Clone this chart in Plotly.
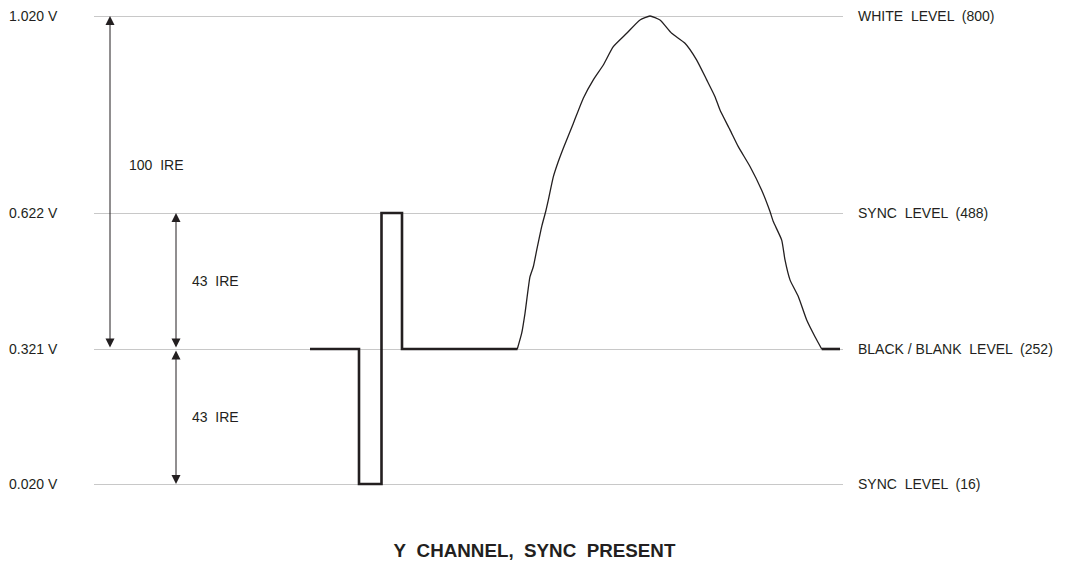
import numpy as np
import plotly.graph_objects as go

# Video levels (volts) and their labels
level_volts = [0.020, 0.321, 0.622, 1.020]
level_ticks = ["0.020 V", "0.321 V", "0.622 V", "1.020 V"]
level_names = ["SYNC  LEVEL  (16)", "BLACK / BLANK  LEVEL  (252)",
               "SYNC  LEVEL  (488)", "WHITE  LEVEL  (800)"]
# the diagram is not drawn to scale: height of each level on the drawing
level_height = [0, 135, 271, 468]

# Sync pulse part of the waveform (time, volts)
sync_t = [310, 359, 359, 381.5, 381.5, 402, 402, 517.5]
sync_v = [0.321, 0.321, 0.020, 0.020, 0.622, 0.622, 0.321, 0.321]

# Active video hump (time, volts)
video_t = [517.3, 521.7, 525, 530, 533.3, 536.7, 541.7, 545.7, 548.3, 553.3, 558.3,
           563.3, 573.3, 583.3, 593.3, 603.3, 613.3, 626.7, 640, 650, 660, 671.7,
           685, 696.7, 706.7, 715, 720, 730, 738.3, 750, 761.7, 770, 773.3, 781.7,
           785, 790, 798.3, 806.7, 815, 821.7]
video_v = [0.321, 0.356, 0.400, 0.481, 0.503, 0.540, 0.592, 0.625, 0.648, 0.695, 0.726,
           0.753, 0.803, 0.854, 0.891, 0.921, 0.958, 0.985, 1.012, 1.020, 1.012, 0.985,
           0.965, 0.931, 0.891, 0.857, 0.830, 0.790, 0.756, 0.716, 0.668, 0.625, 0.603,
           0.562, 0.518, 0.474, 0.437, 0.385, 0.348, 0.321]

# Trailing blank
tail_t = [821.7, 840]
tail_v = [0.321, 0.321]


def to_drawing(v):
    return np.interp(v, level_volts, level_height)


ink = "#231f20"
font = "Liberation Sans, Arial, sans-serif"

fig = go.Figure()
fig.add_trace(go.Scatter(x=sync_t, y=to_drawing(sync_v), mode="lines",
                         line=dict(color=ink, width=2.6), hoverinfo="skip"))
fig.add_trace(go.Scatter(x=video_t, y=to_drawing(video_v), mode="lines",
                         line=dict(color=ink, width=1.3, shape="spline", smoothing=0.5),
                         hoverinfo="skip"))
fig.add_trace(go.Scatter(x=tail_t, y=to_drawing(tail_v), mode="lines",
                         line=dict(color=ink, width=2.6), hoverinfo="skip"))

# IRE dimension arrows
arrows = [
    (110, 1.020, 0.321, "100\u00a0\u00a0IRE", 127, 319),
    (176, 0.622, 0.321, "43\u00a0\u00a0IRE", 190, None),
    (176, 0.020, 0.321, "43\u00a0\u00a0IRE", 190, None),
]
for x, v_head, v_tail, label, lx, ly in arrows:
    y0 = float(to_drawing(v_head))
    y1 = float(to_drawing(v_tail))
    fig.add_annotation(x=x, y=y0, ax=x, ay=y1, xref="x", yref="y", axref="x", ayref="y",
                       text="", showarrow=True, arrowhead=2, startarrowhead=2,
                       arrowside="end+start", arrowsize=1.8, startarrowsize=1.8,
                       arrowwidth=1, arrowcolor=ink, standoff=0, startstandoff=0)
    fig.add_annotation(x=lx, y=ly if ly is not None else (y0 + y1) / 2, xref="x", yref="y",
                       text=label, showarrow=False, xanchor="left",
                       font=dict(family=font, size=14, color=ink))

# Voltage labels on the left, level names on the right
for v, tick, name in zip(level_volts, level_ticks, level_names):
    yy = float(to_drawing(v))
    fig.add_annotation(x=0, xref="paper", xshift=-34, y=yy, yref="y",
                       text=tick, showarrow=False, xanchor="right",
                       font=dict(family=font, size=14, color=ink))
    fig.add_annotation(x=1, xref="paper", xshift=13, y=yy, yref="y",
                       text=name, showarrow=False, xanchor="left",
                       font=dict(family=font, size=14, color=ink))

# page has an 8px body margin, so the figure sits 8px in from the window corner
fig.update_layout(
    width=1053, height=556,
    margin=dict(l=86, r=218, t=0, b=8),
    paper_bgcolor="white", plot_bgcolor="white",
    showlegend=False,
    title=dict(text="<b>Y\u00a0\u00a0CHANNEL,\u00a0\u00a0SYNC\u00a0\u00a0PRESENT</b>",
               x=0.5, xref="container", xanchor="center",
               y=1 - 542 / 556, yref="container", yanchor="middle",
               font=dict(family=font, size=18.8, color=ink)),
    xaxis=dict(range=[94, 843], visible=False, fixedrange=True),
    yaxis=dict(range=[-72, 476], tickvals=level_height, showticklabels=False,
               showgrid=True, gridcolor="#c8c8c8", gridwidth=1.2, zeroline=False,
               showline=False, ticks="", fixedrange=True),
)

fig.write_html("out.html")
